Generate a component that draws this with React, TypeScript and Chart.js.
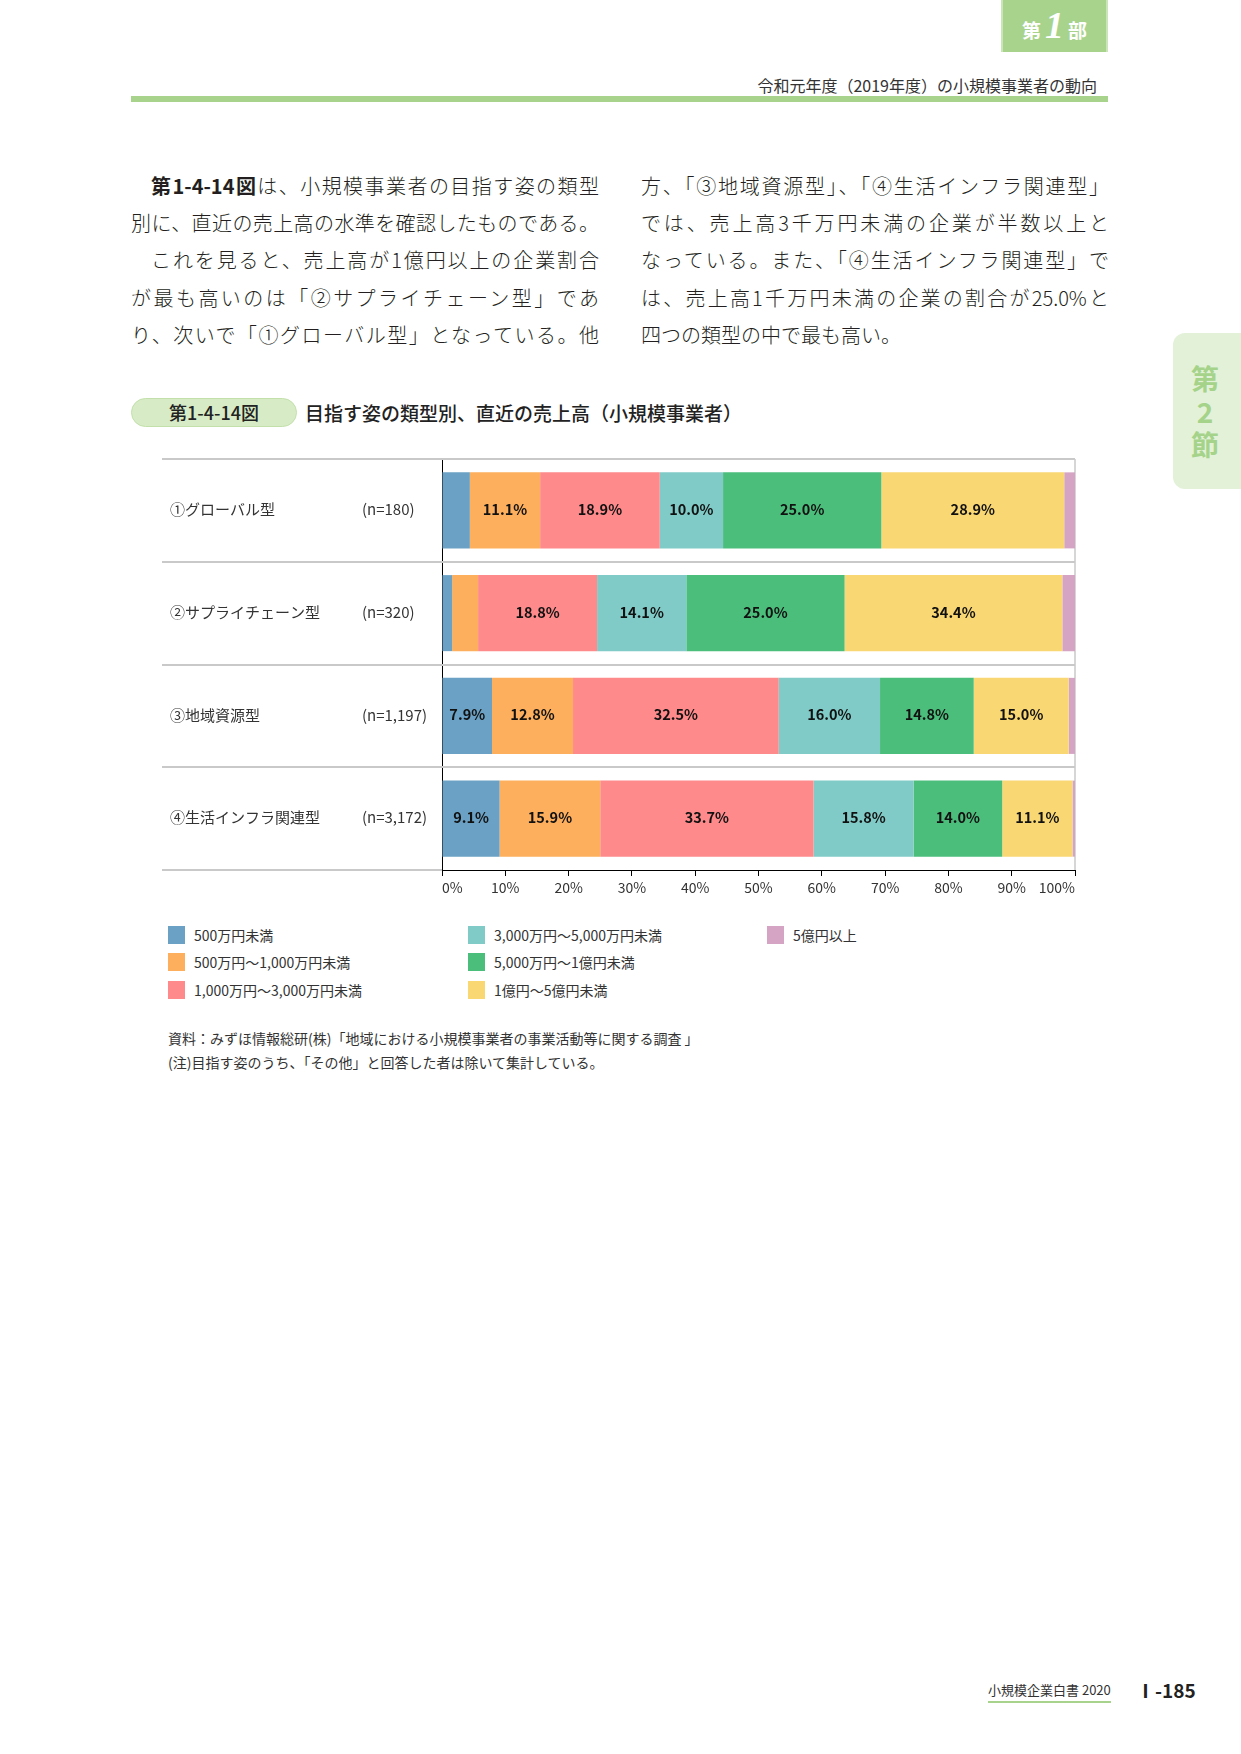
import React, { useEffect, useRef } from "react";
import { Chart, registerables } from "chart.js";

Chart.register(...registerables);

// ---------- data ----------
const categories = ["①グローバル型", "②サプライチェーン型", "③地域資源型", "④生活インフラ関連型"];
const sampleSizes = ["(n=180)", "(n=320)", "(n=1,197)", "(n=3,172)"];

const seriesNames = [
  "500万円未満",
  "500万円～1,000万円未満",
  "1,000万円～3,000万円未満",
  "3,000万円～5,000万円未満",
  "5,000万円～1億円未満",
  "1億円～5億円未満",
  "5億円以上",
];
const seriesColors = ["#6aa1c4", "#fdaf5d", "#fe8a8b", "#80cbc7", "#4bbe7c", "#f9d773", "#d5a3c4"];

const under5m = [4.4, 1.6, 7.9, 9.1];
const from5mTo10m = [11.1, 4.1, 12.8, 15.9];
const from10mTo30m = [18.9, 18.8, 32.5, 33.7];
const from30mTo50m = [10.0, 14.1, 16.0, 15.8];
const from50mTo100m = [25.0, 25.0, 14.8, 14.0];
const from100mTo500m = [28.9, 34.4, 15.0, 11.1];
const over500m = [1.7, 2.0, 1.0, 0.4];
const seriesValues = [under5m, from5mTo10m, from10mTo30m, from30mTo50m, from50mTo100m, from100mTo500m, over500m];

const xTickValues = [0, 10, 20, 30, 40, 50, 60, 70, 80, 90, 100];
const labelThreshold = 5;

const FONT = '"Noto Sans CJK JP", "Noto Sans", sans-serif';

const leftText = [
  { t: "第1-4-14図は、小規模事業者の目指す姿の類型", indent: true, bold: "第1-4-14図" },
  { t: "別に、直近の売上高の水準を確認したものである。" },
  { t: "これを見ると、売上高が1億円以上の企業割合", indent: true },
  { t: "が最も高いのは「②サプライチェーン型」であ" },
  { t: "り、次いで「①グローバル型」となっている。他" },
];
const rightText = [
  { t: "方、「③地域資源型」、「④生活インフラ関連型」" },
  { t: "では、売上高3千万円未満の企業が半数以上と" },
  { t: "なっている。また、「④生活インフラ関連型」で" },
  { t: "は、売上高1千万円未満の企業の割合が25.0%と" },
  { t: "四つの類型の中で最も高い。", last: true },
];

const CANVAS_LEFT = 150;
const CANVAS_TOP = 440;
const CANVAS_W = 945;
const CANVAS_H = 470;
const LINE_START = 12;

const framePlugin = {
  id: "framePlugin",
  beforeDatasetsDraw(chart: any) {
    const { ctx, chartArea: a } = chart;
    const n = categories.length;
    const h = (a.bottom - a.top) / n;
    ctx.save();
    ctx.strokeStyle = "#c9c9c9";
    ctx.lineWidth = 2;
    for (let k = 0; k < n; k++) {
      const y = Math.round(a.top + k * h);
      ctx.beginPath();
      ctx.moveTo(LINE_START, y);
      ctx.lineTo(a.right, y);
      ctx.stroke();
    }
    const yb = Math.round(a.bottom);
    ctx.beginPath();
    ctx.moveTo(LINE_START, yb);
    ctx.lineTo(a.left, yb);
    ctx.stroke();
    ctx.lineWidth = 1.5;
    ctx.beginPath();
    ctx.moveTo(a.right, a.top);
    ctx.lineTo(a.right, a.bottom);
    ctx.stroke();

    const yScale = chart.scales.y;
    ctx.fillStyle = "#333333";
    ctx.font = `15px ${FONT}`;
    ctx.textBaseline = "middle";
    ctx.textAlign = "left";
    categories.forEach((c, i) => {
      const y = yScale.getPixelForValue(i) - 1;
      ctx.fillText(c, 20, y);
      ctx.fillText(sampleSizes[i], 212, y);
    });
    ctx.restore();
  },
  afterDatasetsDraw(chart: any) {
    const { ctx } = chart;
    ctx.save();
    ctx.fillStyle = "#111111";
    ctx.font = `bold 14.5px ${FONT}`;
    ctx.textAlign = "center";
    ctx.textBaseline = "middle";
    chart.data.datasets.forEach((ds: any, di: number) => {
      const meta = chart.getDatasetMeta(di);
      meta.data.forEach((el: any, i: number) => {
        const v = ds.data[i];
        if (v >= labelThreshold) {
          const { x, base, y } = el.getProps(["x", "base", "y"], true);
          ctx.fillText(v.toFixed(1) + "%", (x + base) / 2, y - 1);
        }
      });
    });
    ctx.restore();
  },
};

function ChartCanvas() {
  const ref = useRef<HTMLCanvasElement | null>(null);
  useEffect(() => {
    if (!ref.current) return;
    const chart = new Chart(ref.current, {
      type: "bar",
      data: {
        labels: categories,
        datasets: seriesNames.map((name, i) => ({
          label: name,
          data: seriesValues[i],
          backgroundColor: seriesColors[i],
          borderWidth: 0,
          barPercentage: 0.74,
          categoryPercentage: 1,
        })),
      },
      options: {
        indexAxis: "y",
        animation: false,
        responsive: false,
        maintainAspectRatio: false,
        layout: { padding: { left: 292, right: 20, top: 19, bottom: 0 } },
        plugins: { legend: { display: false }, tooltip: { enabled: false } },
        scales: {
          x: {
            stacked: true,
            min: 0,
            max: 100,
            afterBuildTicks: (s: any) => {
              s.ticks = xTickValues.map((v) => ({ value: v }));
            },
            afterFit: (s: any) => {
              s.height = 40;
            },
            grid: { drawOnChartArea: false, drawTicks: true, tickLength: 6, color: "#000000", lineWidth: 1 },
            border: { display: true, color: "#000000", width: 1 },
            ticks: {
              align: "inner",
              padding: 3,
              color: "#333333",
              font: { family: FONT, size: 14 },
              callback: (v: any) => v + "%",
            },
          },
          y: {
            stacked: true,
            afterFit: (s: any) => {
              s.width = 0;
            },
            grid: { display: false, drawTicks: false },
            border: { display: true, color: "#000000", width: 1 },
            ticks: { display: false },
          },
        },
      } as any,
      plugins: [framePlugin],
    });
    return () => chart.destroy();
  }, []);
  return (
    <canvas
      ref={ref}
      width={CANVAS_W}
      height={CANVAS_H}
      style={{ position: "absolute", left: CANVAS_LEFT, top: CANVAS_TOP, width: CANVAS_W, height: CANVAS_H }}
    />
  );
}

function TextLine({ line, top, left }: any) {
  const content = line.bold ? (
    <>
      <span style={{ fontWeight: 700 }}>{line.bold}</span>
      {line.t.slice(line.bold.length)}
    </>
  ) : (
    line.t
  );
  return (
    <div
      style={{
        position: "absolute",
        left: left + (line.indent ? 20 : 0),
        top,
        width: 468 - (line.indent ? 20 : 0),
        height: 37,
        lineHeight: "37px",
        fontSize: 20,
        fontWeight: 300,
        color: "#231f20",
        textAlign: line.last ? "left" : "justify",
        textAlignLast: line.last ? "left" : "justify",
      } as any}
    >
      {content}
    </div>
  );
}

export default function App() {
  const legendCols = [
    [0, 1, 2],
    [3, 4, 5],
    [6],
  ];
  const legendX = [168, 468, 767];
  const legendY = [935, 962, 990];
  return (
    <div
      style={{
        position: "absolute",
        left: 0,
        top: 0,
        width: 1241,
        height: 1754,
        background: "#ffffff",
        fontFamily: FONT,
        overflow: "hidden",
      }}
    >
      {/* top tab */}
      <div
        style={{
          position: "absolute",
          left: 1001,
          top: 0,
          width: 107,
          height: 52,
          background: "#a8d38d",
          borderLeft: "2px solid #cbe5b8",
          borderRight: "2px solid #cbe5b8",
          boxSizing: "border-box",
          color: "#ffffff",
          display: "flex",
          alignItems: "baseline",
          justifyContent: "center",
          paddingTop: 6,
        }}
      >
        <span style={{ fontSize: 19, fontWeight: 700 }}>第</span>
        <span
          style={{
            fontSize: 38,
            fontWeight: 700,
            fontStyle: "italic",
            fontFamily: '"Liberation Serif", serif',
            margin: "0 4px",
            lineHeight: "38px",
          }}
        >
          1
        </span>
        <span style={{ fontSize: 19, fontWeight: 700 }}>部</span>
      </div>
      <div
        style={{
          position: "absolute",
          right: 1241 - 1097,
          top: 73,
          fontSize: 16,
          color: "#333333",
          whiteSpace: "nowrap",
        }}
      >
        令和元年度（2019年度）の小規模事業者の動向
      </div>
      <div style={{ position: "absolute", left: 131, top: 96, width: 977, height: 6, background: "#a8d38d" }} />

      {/* side tab */}
      <div
        style={{
          position: "absolute",
          left: 1173,
          top: 333,
          width: 80,
          height: 156,
          background: "#e3f1d8",
          borderRadius: 12,
        }}
      />
      {["第", "2", "節"].map((c, i) => (
        <div
          key={c}
          style={{
            position: "absolute",
            left: 1185,
            width: 40,
            top: 360 + i * 33,
            height: 36,
            lineHeight: "36px",
            textAlign: "center",
            fontSize: 28,
            fontWeight: 700,
            color: "#a5d38a",
          }}
        >
          {c}
        </div>
      ))}

      {/* body text */}
      {leftText.map((l, i) => (
        <TextLine key={"l" + i} line={l} left={131} top={167 + i * 37.2} />
      ))}
      {rightText.map((l, i) => (
        <TextLine key={"r" + i} line={l} left={641} top={167 + i * 37.2} />
      ))}

      {/* figure title */}
      <div
        style={{
          position: "absolute",
          left: 131,
          top: 398,
          width: 166,
          height: 29,
          borderRadius: 15,
          background: "#d7ecc6",
          border: "1px solid #c3e0ab",
          boxSizing: "border-box",
          textAlign: "center",
          lineHeight: "27px",
          fontSize: 18,
          fontWeight: 500,
          color: "#222222",
        }}
      >
        第1-4-14図
      </div>
      <div
        style={{
          position: "absolute",
          left: 305,
          top: 399,
          lineHeight: "28px",
          fontSize: 19,
          fontWeight: 500,
          color: "#222222",
          whiteSpace: "nowrap",
        }}
      >
        目指す姿の類型別、直近の売上高（小規模事業者）
      </div>

      <ChartCanvas />

      {/* legend */}
      {legendCols.map((col, ci) =>
        col.map((si, ri) => (
          <div key={si}>
            <div
              style={{
                position: "absolute",
                left: legendX[ci],
                top: legendY[ri] - 9,
                width: 17,
                height: 18,
                background: seriesColors[si],
              }}
            />
            <div
              style={{
                position: "absolute",
                left: legendX[ci] + 26,
                top: legendY[ri] - 11,
                lineHeight: "22px",
                fontSize: 14,
                color: "#333333",
                whiteSpace: "nowrap",
              }}
            >
              {seriesNames[si]}
            </div>
          </div>
        ))
      )}

      {/* notes */}
      <div
        style={{
          position: "absolute",
          left: 168,
          top: 1026,
          fontSize: 14,
          lineHeight: "24px",
          color: "#333333",
          whiteSpace: "nowrap",
        }}
      >
        資料：みずほ情報総研(株)「地域における小規模事業者の事業活動等に関する調査 」
        <br />
        (注)目指す姿のうち、「その他」と回答した者は除いて集計している。
      </div>

      {/* footer */}
      <div
        style={{
          position: "absolute",
          left: 988,
          top: 1680,
          fontSize: 13,
          lineHeight: "20px",
          color: "#333333",
          whiteSpace: "nowrap",
          borderBottom: "2px solid #a8d38d",
          paddingBottom: 1,
        }}
      >
        小規模企業白書&nbsp;2020
      </div>
      <div
        style={{
          position: "absolute",
          left: 1136,
          top: 1677,
          fontSize: 19,
          fontWeight: 700,
          lineHeight: "26px",
          color: "#222222",
          whiteSpace: "nowrap",
        }}
      >
        Ⅰ-185
      </div>
    </div>
  );
}
